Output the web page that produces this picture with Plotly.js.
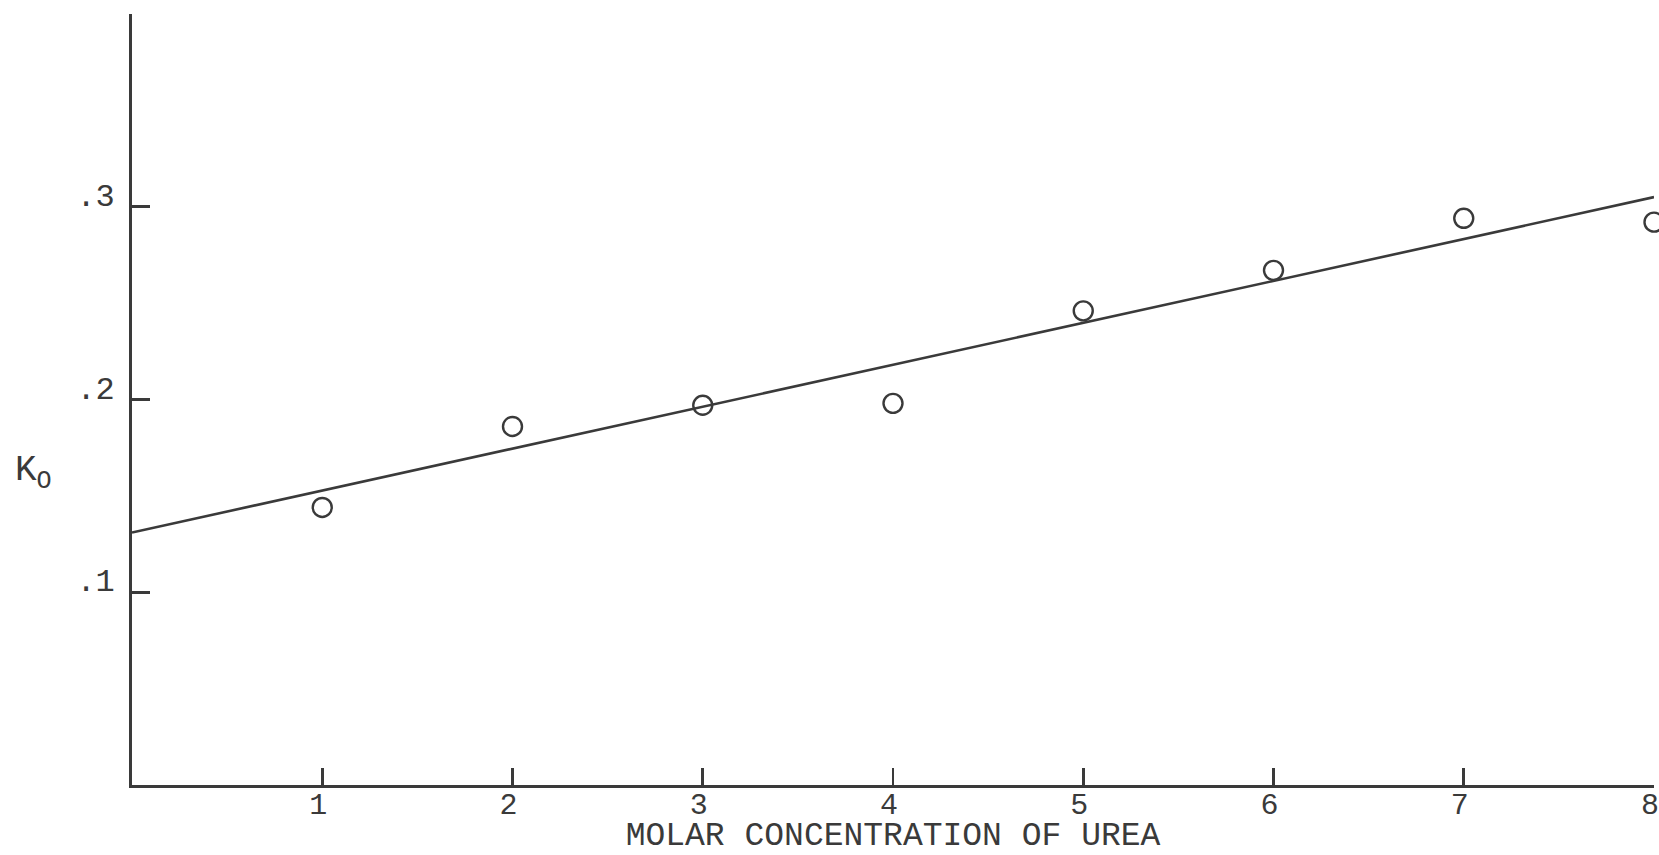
<!DOCTYPE html>
<html>
<head>
<meta charset="utf-8">
<script src="https://cdn.plot.ly/plotly-3.0.1.min.js"></script>
<style>
  html, body { margin: 0; padding: 0; background: #fff; }
  #chart { width: 1659px; height: 855px; }
</style>
</head>
<body>
<div id="chart"></div>
<script>
// Molar urea concentration and measured K_O
const concentration = [1, 2, 3, 4, 5, 6, 7, 8];
const kO = [0.144, 0.186, 0.197, 0.198, 0.246, 0.267, 0.294, 0.292];

// Straight-line fit drawn through the points
const fitX = [0, 8];
const fitY = [0.131, 0.305];

// Axis ticks
const xTickVals = [1, 2, 3, 4, 5, 6, 7, 8];
const xTickText = ['1', '2', '3', '4', '5', '6', '7', '8'];
const yTickVals = [0.1, 0.2, 0.3];
const yTickText = ['.1', '.2', '.3'];

const ink = '#3a3a3a';
const mono = '"Liberation Mono", "DejaVu Sans Mono", monospace';

const traces = [
  {
    x: fitX, y: fitY,
    type: 'scatter', mode: 'lines',
    line: { color: ink, width: 2.6 },
    hoverinfo: 'skip', showlegend: false
  },
  {
    x: concentration, y: kO,
    type: 'scatter', mode: 'markers',
    cliponaxis: false,
    marker: {
      symbol: 'circle-open', size: 19,
      color: ink, line: { color: ink, width: 2.4 }
    },
    showlegend: false
  }
];

const layout = {
  width: 1659, height: 855,
  margin: { l: 132, r: 5, t: 14, b: 70 },
  paper_bgcolor: '#fff', plot_bgcolor: '#fff',
  font: { family: mono, color: ink, size: 30 },
  xaxis: {
    range: [0, 8],
    showgrid: false, zeroline: false,
    showline: true, linecolor: ink, linewidth: 2.6,
    ticks: 'inside', ticklen: 17, tickwidth: 2.6, tickcolor: ink,
    tickmode: 'array', tickvals: xTickVals, ticktext: xTickText,
    tickfont: { family: mono, size: 30, color: ink },
    ticklabeloverflow: 'allow',
    ticklabelshift: -4,
    ticklabelstandoff: -10,
    title: {
      text: 'MOLAR CONCENTRATION OF UREA',
      font: { family: mono, size: 33, color: ink },
      standoff: 6
    },
    automargin: false
  },
  yaxis: {
    range: [0, 0.4],
    showgrid: false, zeroline: false,
    showline: true, linecolor: ink, linewidth: 2.8,
    ticks: 'inside', ticklen: 18, tickwidth: 2.6, tickcolor: ink,
    tickmode: 'array', tickvals: yTickVals, ticktext: yTickText,
    tickfont: { family: mono, size: 32, color: ink },
    ticklabelshift: -12,
    ticklabelstandoff: 8,
    automargin: false
  },
  annotations: [
    {
      text: 'K<sub>O</sub>',
      xref: 'paper', yref: 'paper',
      x: -0.078, y: 0.405,
      xanchor: 'left', yanchor: 'middle',
      showarrow: false,
      font: { family: mono, size: 36, color: ink }
    }
  ]
};

Plotly.newPlot('chart', traces, layout, { displayModeBar: false, staticPlot: true });
</script>
</body>
</html>
